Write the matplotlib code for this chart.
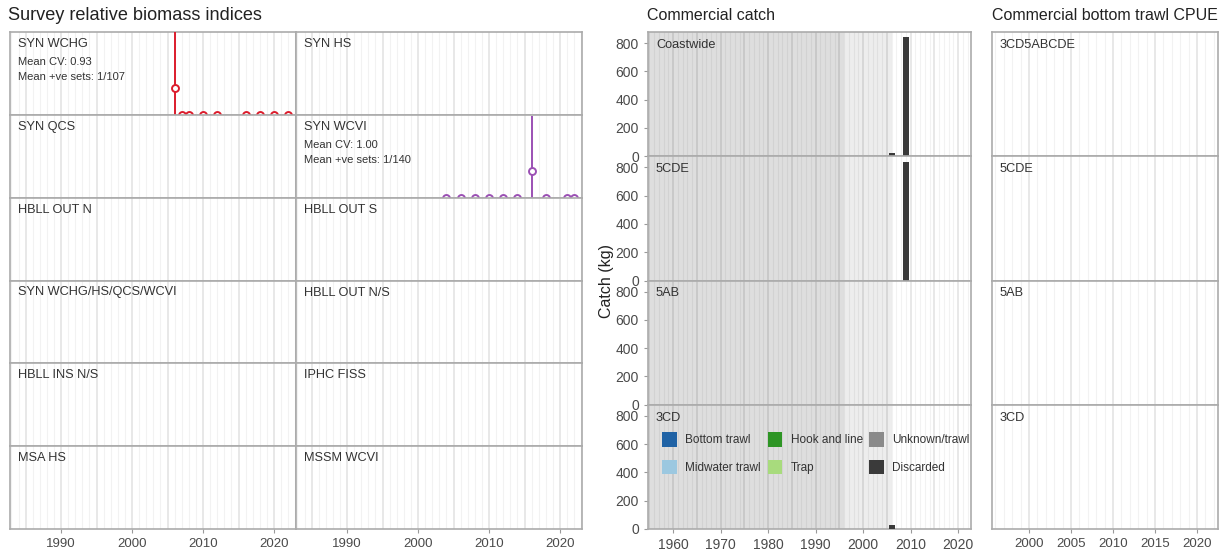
import matplotlib
matplotlib.use("Agg")
import matplotlib.pyplot as plt
from matplotlib.patches import Patch

plt.rcParams['font.family'] = ['Liberation Sans', 'DejaVu Sans']

# ---------------- data ----------------
survey_left = ["SYN WCHG", "SYN QCS", "HBLL OUT N", "SYN WCHG/HS/QCS/WCVI", "HBLL INS N/S", "MSA HS"]
survey_right = ["SYN HS", "SYN WCVI", "HBLL OUT S", "HBLL OUT N/S", "IPHC FISS", "MSSM WCVI"]

wchg_years = [2006, 2007, 2008, 2010, 2012, 2016, 2018, 2020, 2022]
wchg_index = [0.32, 0, 0, 0, 0, 0, 0, 0, 0]
wchg_upper = [1.6, 0, 0, 0, 0, 0, 0, 0, 0]
wchg_lower = [0, 0, 0, 0, 0, 0, 0, 0, 0]
wchg_cv = "Mean CV: 0.93"
wchg_sets = "Mean +ve sets: 1/107"

wcvi_years = [2004, 2006, 2008, 2010, 2012, 2014, 2016, 2018, 2021, 2022]
wcvi_index = [0, 0, 0, 0, 0, 0, 0.325, 0, 0, 0]
wcvi_upper = [0, 0, 0, 0, 0, 0, 0.98, 0, 0, 0]
wcvi_lower = [0, 0, 0, 0, 0, 0, 0, 0, 0, 0]
wcvi_cv = "Mean CV: 1.00"
wcvi_sets = "Mean +ve sets: 1/140"

catch_areas = ["Coastwide", "5CDE", "5AB", "3CD"]
catch_years = [2006, 2009]
catch_discarded = {
    "Coastwide": [25, 840],
    "5CDE": [0, 840],
    "5AB": [0, 0],
    "3CD": [25, 0],
}
gear_labels = ["Bottom trawl", "Midwater trawl", "Hook and line", "Trap", "Unknown/trawl", "Discarded"]
gear_colors = ["#1F62A5", "#9CC8E0", "#2E9525", "#A8DB7D", "#8A8A8A", "#3A3A3A"]

cpue_areas = ["3CD5ABCDE", "5CDE", "5AB", "3CD"]

survey_ticks = [1990, 2000, 2010, 2020]
catch_xticks = [1960, 1970, 1980, 1990, 2000, 2010, 2020]
catch_yticks = [0, 200, 400, 600, 800]
cpue_ticks = [2000, 2005, 2010, 2015, 2020]

# ---------------- layout ----------------
W, H = 1230, 554
fig = plt.figure(figsize=(W / 100, H / 100), dpi=100)

def rect(x0, y0, x1, y1):
    return [x0 / W, 1 - y1 / H, (x1 - x0) / W, (y1 - y0) / H]

BORDER = "#ababab"
TXT = "#333333"
TICKTXT = "#4a4a4a"

def style(ax, x0, x1, major_every=5):
    ax.set_xlim(x0, x1)
    for yr in range(int(x0), int(x1) + 2):
        major = (yr % major_every == 0)
        ax.axvline(yr, color="#e6e6e6" if major else "#f2f2f2",
                   lw=1.3 if major else 0.8, zorder=0)
    for s in ax.spines.values():
        s.set_color(BORDER)
        s.set_linewidth(1.2)
    ax.tick_params(colors="#9a9a9a", labelcolor=TICKTXT, labelsize=9.5, length=3, width=0.8)
    ax.set_facecolor("white")

def label(ax, text, dy=-5, size=9.2, color=TXT):
    ax.annotate(text, xy=(0, 1), xycoords="axes fraction", xytext=(8, dy),
                textcoords="offset pixels", ha="left", va="top", fontsize=size, color=color)

# Titles
fig.text(8 / W, 1 - 16 / H, "Survey relative biomass indices", fontsize=13.1, color="#222222", va="center")
fig.text(647 / W, 1 - 16 / H, "Commercial catch", fontsize=11.5, color="#222222", va="center")
fig.text(992 / W, 1 - 16 / H, "Commercial bottom trawl CPUE", fontsize=11.5, color="#222222", va="center")

# ---------------- survey panels ----------------
top, bot = 32, 529
rh = (bot - top) / 6
cols = [(10, 296, survey_left), (296, 582, survey_right)]
series = {
    "SYN WCHG": (wchg_years, wchg_index, wchg_lower, wchg_upper, "#DC1C2C", wchg_cv, wchg_sets),
    "SYN WCVI": (wcvi_years, wcvi_index, wcvi_lower, wcvi_upper, "#9B50B4", wcvi_cv, wcvi_sets),
}
for (cx0, cx1, names) in cols:
    for i, name in enumerate(names):
        ax = fig.add_axes(rect(cx0, top + i * rh, cx1, top + (i + 1) * rh))
        style(ax, 1982.8, 2023.1)
        ax.set_ylim(0, 1)
        ax.set_yticks([])
        if i == 5:
            ax.set_xticks(survey_ticks)
        else:
            ax.set_xticks([])
        label(ax, name, dy=-6)
        if name in series:
            yrs, idx, lo, up, col, cv, sets = series[name]
            ax.vlines(yrs, lo, up, color=col, lw=1.4, zorder=3)
            ax.plot(yrs, idx, "o", ms=5, mfc="white", mec=col, mew=1.4, zorder=4, clip_on=True)
            label(ax, cv, dy=-25, size=8)
            label(ax, sets, dy=-40, size=8)

# ---------------- commercial catch ----------------
ch = (bot - top) / 4
for i, area in enumerate(catch_areas):
    ax = fig.add_axes(rect(648, top + i * ch, 971, top + (i + 1) * ch))
    style(ax, 1954.7, 2022.7)
    ax.axvspan(1940, 1996, color="black", alpha=0.13, lw=0, zorder=1)
    ax.axvspan(1996, 2006, color="black", alpha=0.07, lw=0, zorder=1)
    ax.bar(catch_years, catch_discarded[area], width=1.25, color=gear_colors[5], zorder=3)
    ax.set_ylim(0, 878)
    ax.set_yticks(catch_yticks)
    ax.tick_params(axis="y", labelsize=10)
    if i == 3:
        ax.set_xticks(catch_xticks)
        ax.tick_params(axis="x", labelsize=10)
        handles = [Patch(facecolor=c, edgecolor="none") for c in gear_colors]
        ax.legend(handles, gear_labels, ncol=3, loc="upper left", bbox_to_anchor=(0.03, 0.82),
                  frameon=False, fontsize=8.5, handlelength=1.25, handleheight=1.55,
                  columnspacing=0.55, handletextpad=0.7, labelspacing=1.1, labelcolor=TXT,
                  borderaxespad=0)
    else:
        ax.set_xticks([])
    label(ax, area, dy=-7)

fig.text(606 / W, 1 - 281 / H, "Catch (kg)", rotation=90, fontsize=11.5, color="#222222",
         ha="center", va="center")

# ---------------- CPUE ----------------
for i, area in enumerate(cpue_areas):
    ax = fig.add_axes(rect(992, top + i * ch, 1218, top + (i + 1) * ch))
    style(ax, 1995.6, 2022.5)
    ax.set_ylim(0, 1)
    ax.set_yticks([])
    if i == 3:
        ax.set_xticks(cpue_ticks)
    else:
        ax.set_xticks([])
    label(ax, area, dy=-7)

fig.savefig("out.png", dpi=100)
